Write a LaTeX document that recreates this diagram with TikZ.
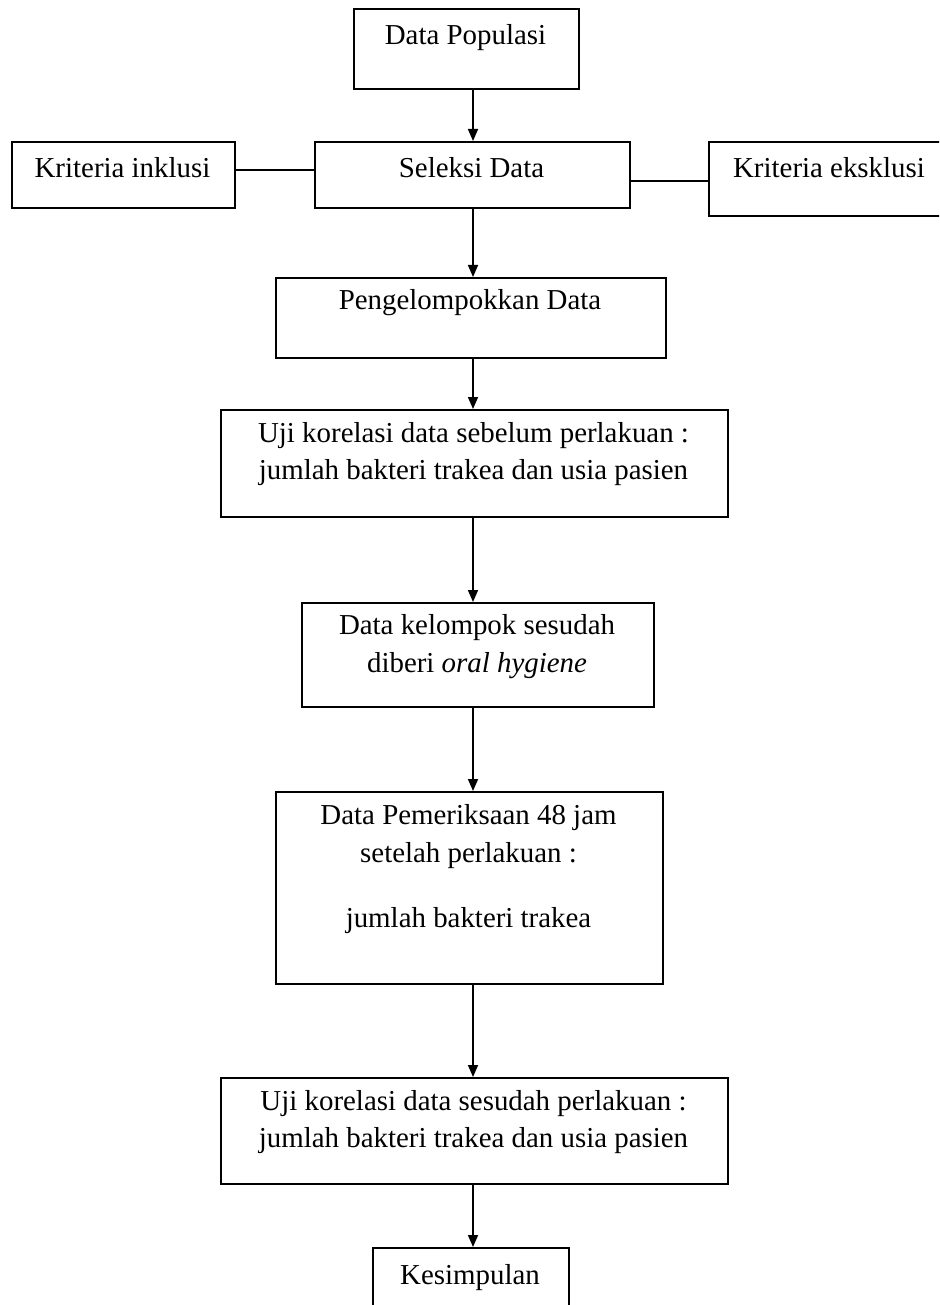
\documentclass[tikz,border=0pt]{standalone}
\usepackage{fontspec}
\setmainfont{Liberation Serif}
\usetikzlibrary{arrows.meta}
\tikzset{
  box/.style={draw, line width=1.6bp, rectangle, anchor=north west, inner sep=0pt},
  txt/.style={inner sep=0pt, align=center, font=\fontsize{29}{38}\selectfont},
  arr/.style={line width=1.6bp, -{Triangle[length=12bp,width=10bp]}},
  ln/.style={line width=1.6bp}
}
\begin{document}
\begin{tikzpicture}[x=1bp,y=-1bp]
\path[use as bounding box] (0,0) rectangle (939,1305);
\clip (0,0) rectangle (939,1305);
\coordinate (axis) at (473,0);
% boxes
\node[box, minimum width=225bp, minimum height=80bp] (dp) at (353,8) {};
\node[box, minimum width=315bp, minimum height=66bp] (sd) at (314,141) {};
\node[box, minimum width=223bp, minimum height=66bp] (ki) at (11,141) {};
\node[box, minimum width=242bp, minimum height=74bp] (ke) at (708,141) {};
\node[box, minimum width=390bp, minimum height=80bp] (pd) at (275,277) {};
\node[box, minimum width=507bp, minimum height=107bp] (u1) at (220,409) {};
\node[box, minimum width=352bp, minimum height=104bp] (dk) at (301,602) {};
\node[box, minimum width=387bp, minimum height=192bp] (pm) at (275,791) {};
\node[box, minimum width=507bp, minimum height=106bp] (u2) at (220,1077) {};
\node[box, minimum width=196bp, minimum height=100bp] (ks) at (372,1247) {};
% texts
\node[txt] (dpt) at (465.5,38) {Data Populasi};
\node[txt] (sdt) at (471.5,168) {Seleksi Data};
\node[txt] (kit) at (122.5,168) {Kriteria inklusi};
\node[txt] (ket) at (829,168) {Kriteria eksklusi};
\node[txt] (pdt) at (470,303) {Pengelompokkan Data};
\node[txt] (u1t) at (473.5,454) {Uji korelasi data sebelum perlakuan :\\jumlah bakteri trakea dan usia pasien};
\node[txt] (dkt) at (477,647) {Data kelompok sesudah\\diberi \textit{oral hygiene}};
\node[txt] (pmt) at (468.5,869) {Data Pemeriksaan 48 jam\\setelah perlakuan :\\[27bp]jumlah bakteri trakea};
\node[txt] (u2t) at (473.5,1122) {Uji korelasi data sesudah perlakuan :\\jumlah bakteri trakea dan usia pasien};
\node[txt] (kst) at (470,1278) {Kesimpulan};
% connectors
\draw[arr] (dp.south -| axis) -- (sd.north -| axis);
\draw[arr] (sd.south -| axis) -- (pd.north -| axis);
\draw[arr] (pd.south -| axis) -- (u1.north -| axis);
\draw[arr] (u1.south -| axis) -- (dk.north -| axis);
\draw[arr] (dk.south -| axis) -- (pm.north -| axis);
\draw[arr] (pm.south -| axis) -- (u2.north -| axis);
\draw[arr] (u2.south -| axis) -- (ks.north -| axis);
\draw[ln] ([yshift=5bp]ki.east) -- ([yshift=5bp]ki.east -| sd.west);
\draw[ln] ([yshift=-2bp]ke.west -| sd.east) -- ([yshift=-2bp]ke.west);
\end{tikzpicture}
\end{document}
